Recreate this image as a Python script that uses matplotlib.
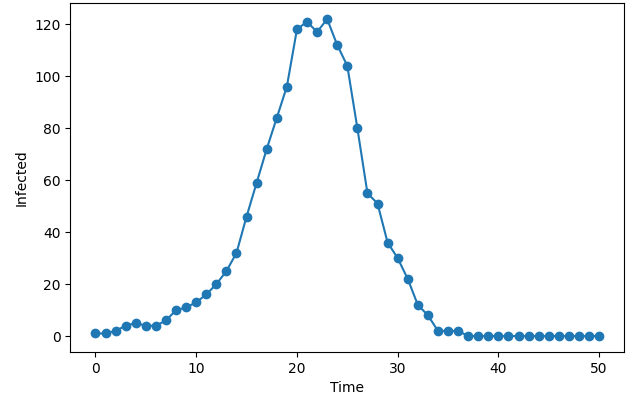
import matplotlib
matplotlib.use("Agg")
import matplotlib.pyplot as plt

# Infected count per time step
time = list(range(51))
infected = [1, 1, 2, 4, 5, 4, 4, 6, 10, 11,
            13, 16, 20, 25, 32, 46, 59, 72, 84, 96,
            118, 121, 117, 122, 112, 104, 80, 55, 51, 36,
            30, 22, 12, 8, 2, 2, 2, 0, 0, 0,
            0, 0, 0, 0, 0, 0, 0, 0, 0, 0,
            0]

fig = plt.figure(figsize=(6.39, 3.99), dpi=100)
ax = fig.add_subplot(111)
ax.plot(time, infected, marker='o', linestyle='-', color='#1f77b4')
ax.set_xlabel('Time')
ax.set_ylabel('Infected')
fig.subplots_adjust(left=0.11, right=0.977, bottom=0.118, top=0.992)

fig.savefig('out.png', dpi=100)
